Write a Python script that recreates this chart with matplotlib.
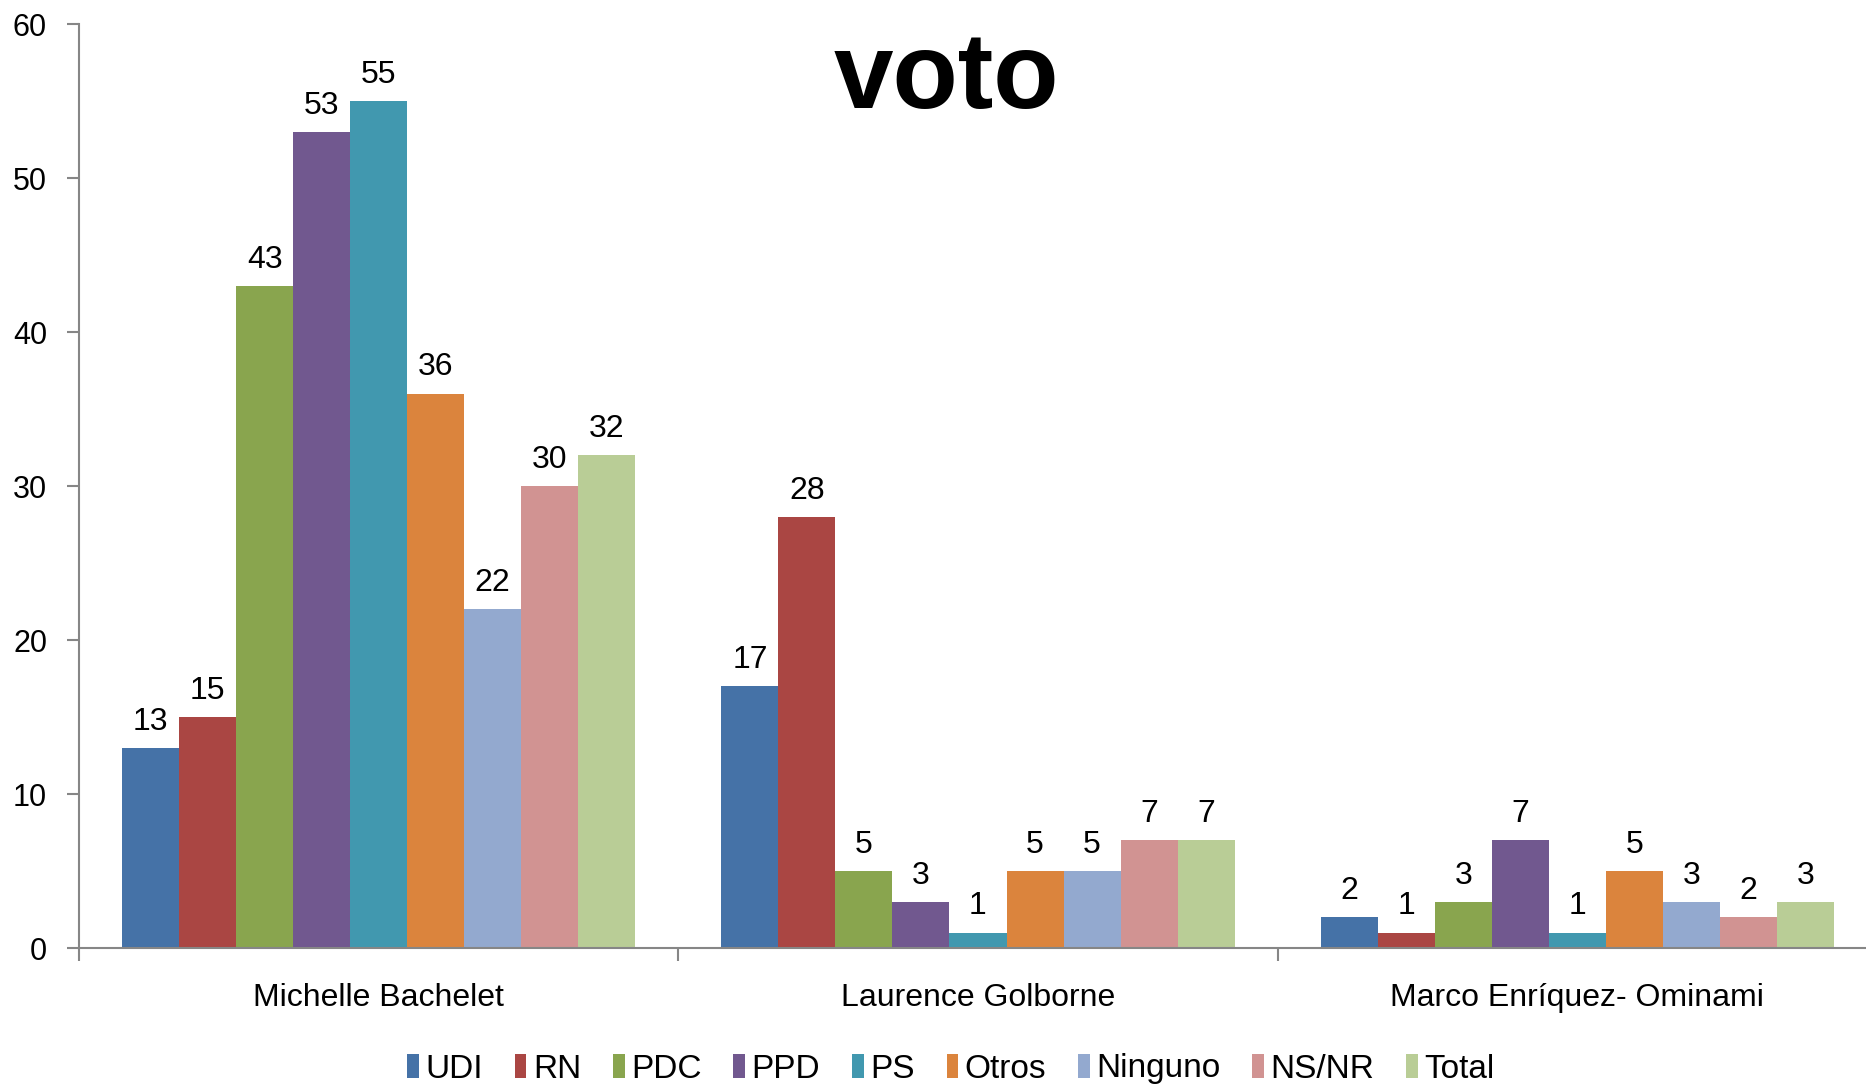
import matplotlib
matplotlib.use("Agg")
import matplotlib.pyplot as plt
import numpy as np
from matplotlib import font_manager

candidates = ["Michelle Bachelet", "Laurence Golborne", "Marco Enríquez- Ominami"]
series = ["UDI", "RN", "PDC", "PPD", "PS", "Otros", "Ninguno", "NS/NR", "Total"]
values = {
    "UDI":     [13, 17, 2],
    "RN":      [15, 28, 1],
    "PDC":     [43, 5, 3],
    "PPD":     [53, 3, 7],
    "PS":      [55, 1, 1],
    "Otros":   [36, 5, 5],
    "Ninguno": [22, 5, 3],
    "NS/NR":   [30, 7, 2],
    "Total":   [32, 7, 3],
}
colors = ["#4572A7", "#AA4643", "#89A54E", "#71588F", "#4198AF",
          "#DB843D", "#93A9CF", "#D19392", "#B9CD96"]
yticks = [0, 10, 20, 30, 40, 50, 60]
title = "voto"

names = {f.name for f in font_manager.fontManager.ttflist}
base = "Liberation Sans" if "Liberation Sans" in names else "DejaVu Sans"
plt.rcParams["font.family"] = [base, "DejaVu Sans"]

W, H = 1866, 1084
fig = plt.figure(figsize=(W / 100, H / 100), dpi=100)
left, right, bottom, top = 79, 1877, 948, 24
ax = fig.add_axes([left / W, 1 - bottom / H, (right - left) / W, (bottom - top) / H])

n = len(series)
group_span = 0.856
bw = group_span / n
x = np.arange(len(candidates))
for i, (s, c) in enumerate(zip(series, colors)):
    pos = x - group_span / 2 + bw * (i + 0.5)
    bars = ax.bar(pos, values[s], width=bw, color=c, label=s, linewidth=0)
    ax.bar_label(bars, labels=[str(v) for v in values[s]], padding=8,
                 fontsize=23, color="black")

ax.set_xlim(-0.5, len(candidates) - 0.5)
ax.set_ylim(0, 60)
ax.set_yticks(yticks)
ax.set_yticklabels([str(t) for t in yticks], fontsize=22)
ax.set_xticks(np.arange(-0.5, len(candidates)), labels=[""] * (len(candidates) + 1))
ax.set_xticks(x, labels=candidates, minor=True)
ax.tick_params(axis="x", which="minor", length=0, pad=25, labelsize=23)
ax.tick_params(axis="x", which="major", length=9, width=1.5, color="#868686", direction="out")
ax.tick_params(axis="y", length=9, width=1.5, color="#868686", pad=14, direction="out")

for sp in ["top", "right"]:
    ax.spines[sp].set_visible(False)
for sp in ["left", "bottom"]:
    ax.spines[sp].set_color("#868686")
    ax.spines[sp].set_linewidth(1.5)
ax.set_axisbelow(True)

leg = fig.legend(loc="center", bbox_to_anchor=(951 / W, 1 - 1069 / H), ncol=n,
                 frameon=False, prop={"size": 24},
                 handlelength=0.35, handleheight=0.75, handletextpad=0.2,
                 columnspacing=0.95, borderaxespad=0)

fig.text(946 / W, 1 - 108 / H, title, ha="center", va="baseline",
         fontsize=77, fontweight="bold", color="black")

fig.savefig("out.png", dpi=100)
